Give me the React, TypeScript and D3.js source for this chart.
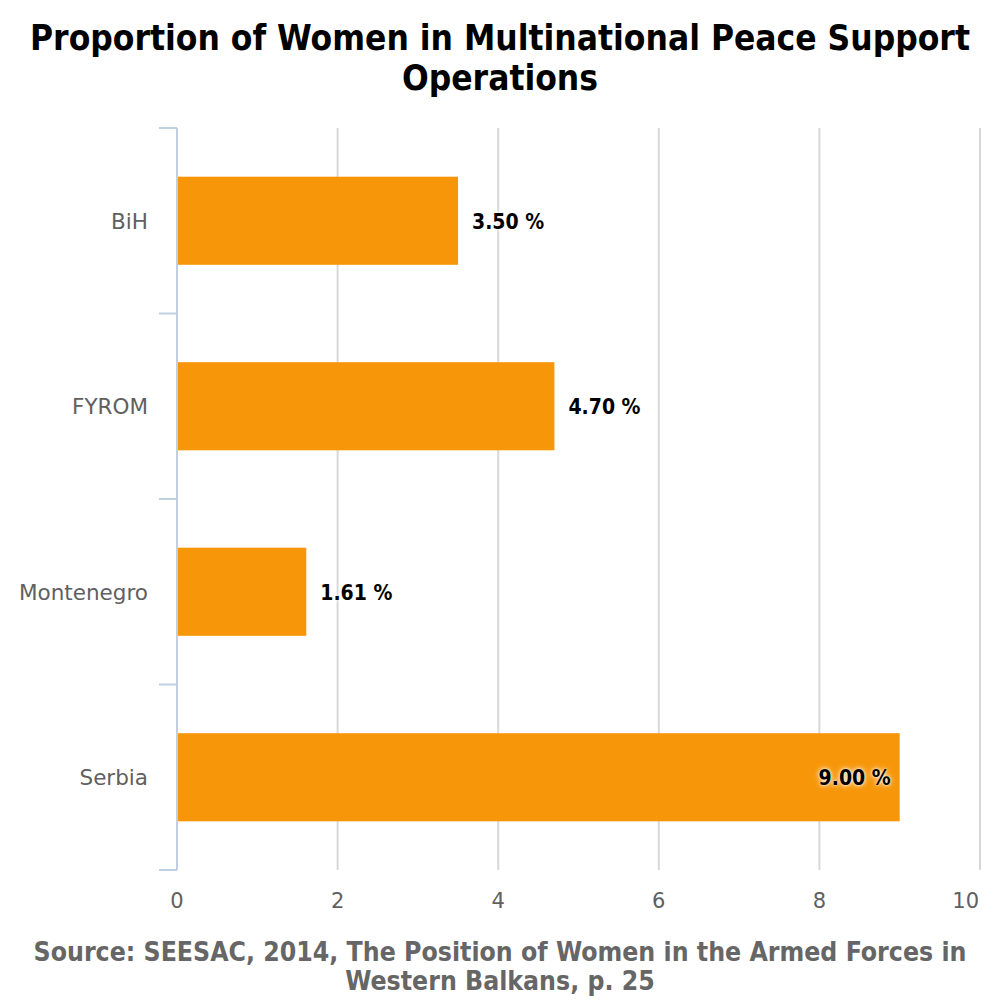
import React from "react";
import * as d3 from "d3";

const categories = ["BiH", "FYROM", "Montenegro", "Serbia"];
const values = [3.5, 4.7, 1.61, 9.0];
const xTicks = [0, 2, 4, 6, 8, 10];
const titleLines = ["Proportion of Women in Multinational Peace Support", "Operations"];
const sourceLines = ["Source: SEESAC, 2014, The Position of Women in the Armed Forces in", "Western Balkans, p. 25"];

const W = 1000;
const H = 1000;
const left = 177;
const right = 980;
const top = 128;
const bottom = 870;

export default function App() {
  const x = d3.scaleLinear().domain([0, 10]).range([left, right]);
  const y = d3.scaleBand<string>().domain(categories).range([top, bottom]).paddingInner(0).paddingOuter(0);
  const bw = y.bandwidth();
  const barH = bw * 0.475;
  const boundaries = d3.range(categories.length + 1).map((i) => top + i * bw);
  const condensed = "'DejaVu Sans Condensed', 'DejaVu Sans', sans-serif";
  return (
    <svg width={W} height={H} style={{ position: "absolute", left: 0, top: 0 }} fontFamily="'DejaVu Sans', sans-serif">
      <rect x={0} y={0} width={W} height={H} fill="#fff" />
      {titleLines.map((t, i) => (
        <text key={i} x={500} y={50 + i * 40} textAnchor="middle" fontSize={35} fontWeight="bold" fontFamily={condensed} fill="#000">
          {t}
        </text>
      ))}
      {xTicks.slice(1).map((t) => (
        <line key={t} x1={x(t)} x2={x(t)} y1={top} y2={bottom} stroke="#d8d8d8" strokeWidth={2} />
      ))}
      {categories.map((c, i) => (
        <rect key={c} x={x(0)} y={y(c)! + (bw - barH) / 2} width={x(values[i]) - x(0)} height={barH} fill="#f79608" />
      ))}
      <line x1={left} x2={left} y1={top} y2={bottom} stroke="#c0d0e0" strokeWidth={2} />
      {boundaries.map((b, i) => (
        <line key={i} x1={159} x2={left} y1={b} y2={b} stroke="#c0d0e0" strokeWidth={2} />
      ))}
      {categories.map((c) => (
        <text key={c} x={148} y={y(c)! + bw / 2 + 8} textAnchor="end" fontSize={21.5} fill="#606060">
          {c}
        </text>
      ))}
      {xTicks.map((t, i) => (
        <text
          key={t}
          x={i === xTicks.length - 1 ? right - 1 : x(t)}
          y={908}
          textAnchor={i === xTicks.length - 1 ? "end" : "middle"}
          fontSize={21}
          fill="#606060"
        >
          {t}
        </text>
      ))}
      {categories.map((c, i) => {
        const inside = values[i] >= 9;
        const xv = x(values[i]);
        return (
          <text
            key={c}
            x={inside ? xv - 9 : xv + 14}
            y={y(c)! + bw / 2 + 8}
            textAnchor={inside ? "end" : "start"}
            fontSize={21}
            fontWeight="bold"
            fontFamily={condensed}
            fill="#000"
            style={{ textShadow: "0 0 6px #fff, 0 0 3px #fff" }}
          >
            {values[i].toFixed(2) + " %"}
          </text>
        );
      })}
      {sourceLines.map((t, i) => (
        <text key={i} x={500} y={961 + i * 29} textAnchor="middle" fontSize={26.4} fontWeight="bold" fontFamily={condensed} fill="#666">
          {t}
        </text>
      ))}
    </svg>
  );
}
